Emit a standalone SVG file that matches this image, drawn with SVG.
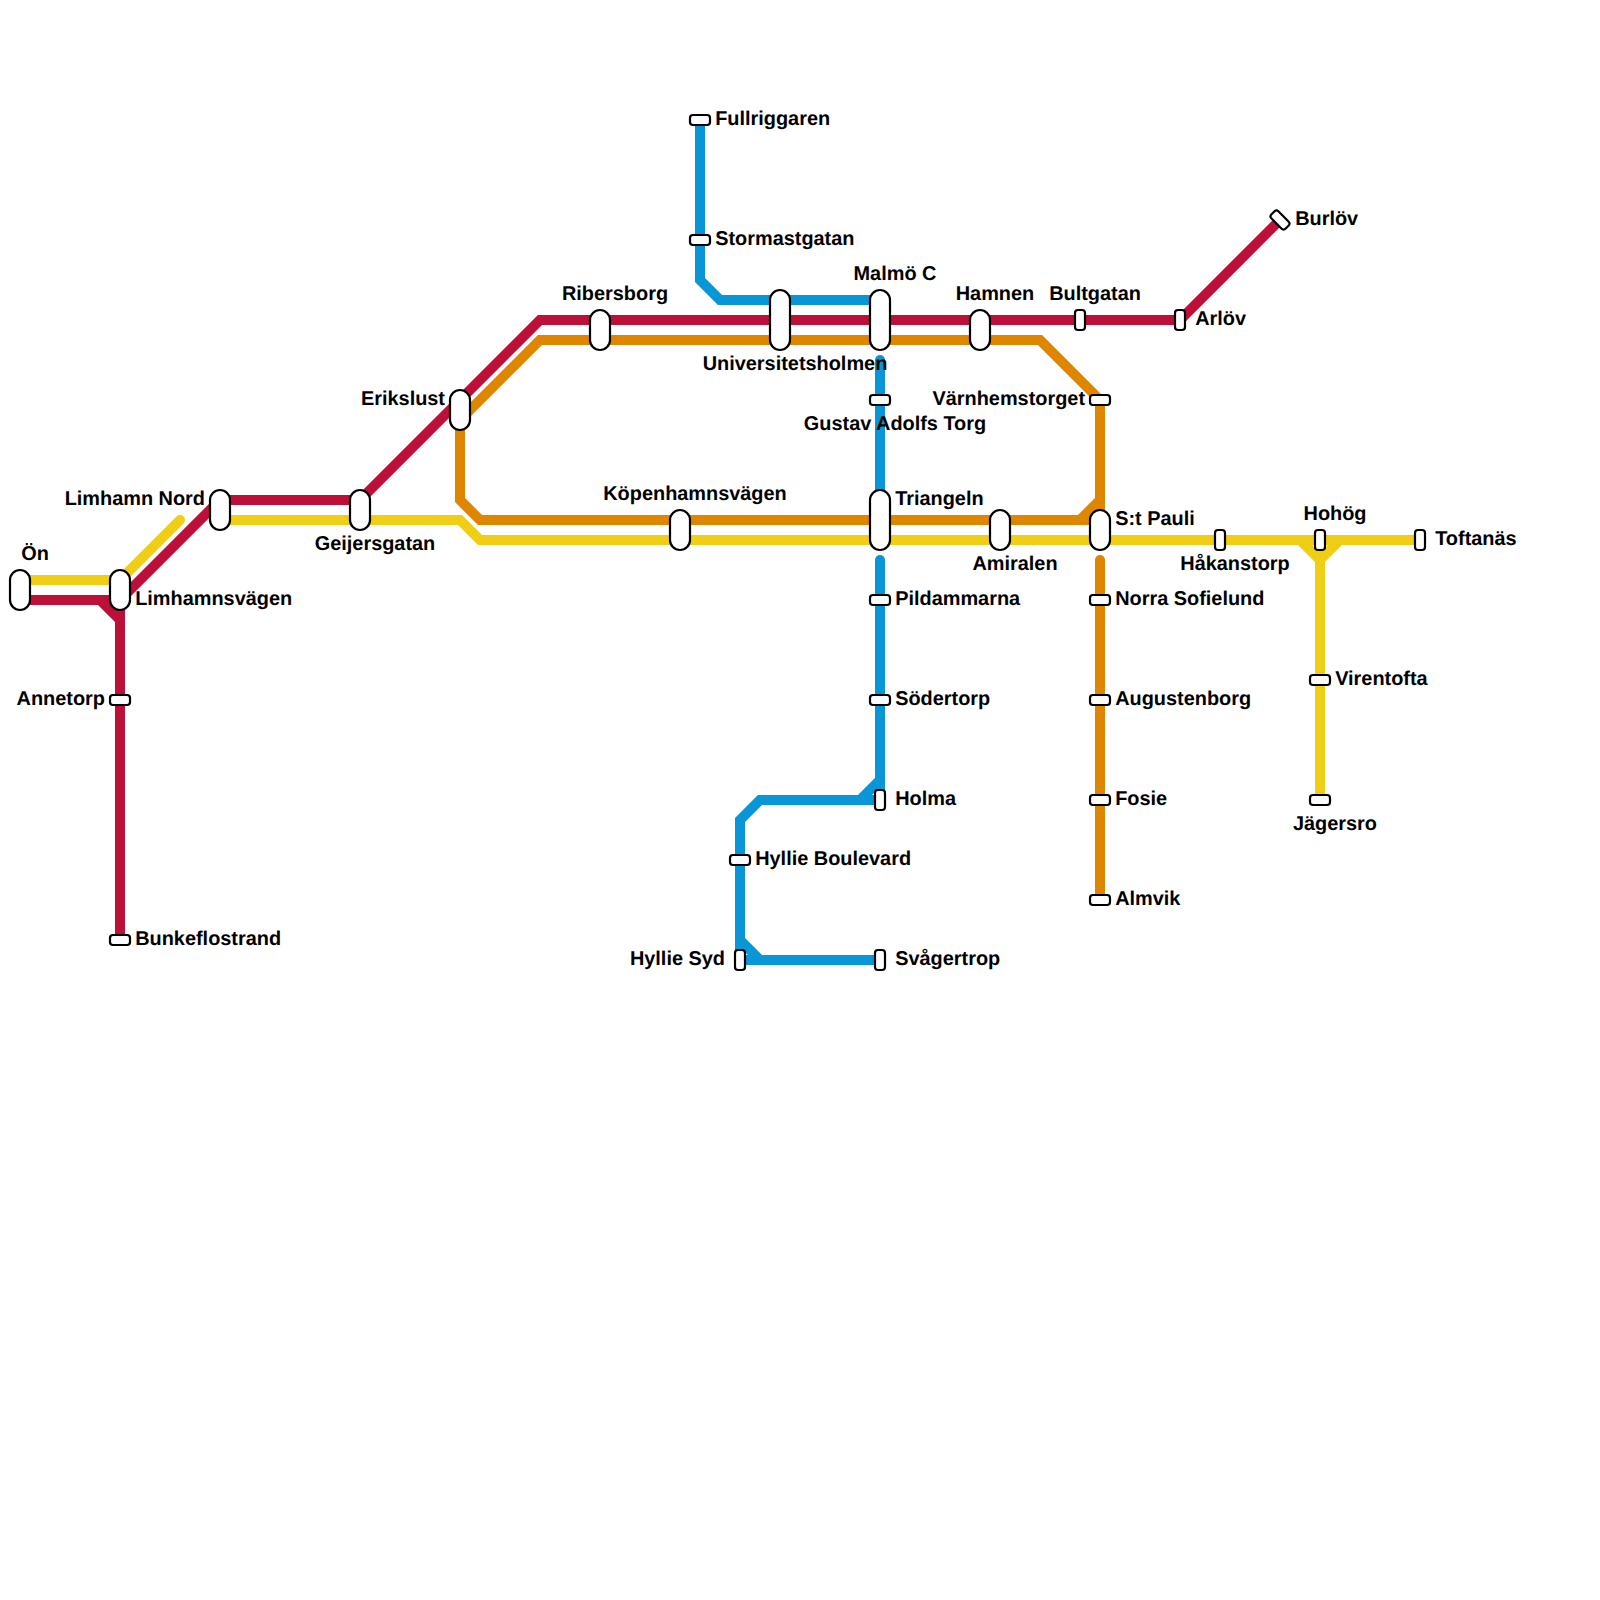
<svg xmlns="http://www.w3.org/2000/svg" width="1600" height="1600" viewBox="0 0 1600 1600">
<style>
.l{fill:none;stroke-width:10;stroke-linejoin:miter;stroke-linecap:butt}
.r{stroke:#bd1038}.y{stroke:#f0ce15}.o{stroke:#df8600}.b{stroke:#0896d7}
.c{stroke-linecap:round}
.s{fill:#fff;stroke:#000;stroke-width:2.2}
text{font-family:"Liberation Sans",Arial,sans-serif;font-weight:700;font-size:19.9px;fill:#000;text-rendering:geometricPrecision}
.m{text-anchor:middle}.e{text-anchor:end}
</style>
<rect width="1600" height="1600" fill="#fff"/>
<g id="connectors">
<path class="l y c" d="M120 580L180 520"/>
<path class="l y" d="M20 580H120"/>
<path class="l y" d="M220 520H460L480 540H1420"/>
<path class="l y" d="M1300 540L1320 560L1340 540"/>
<path class="l y" d="M1320 540V800"/>
<path class="l o" d="M460 420L540 340H1040L1100 400V520"/>
<path class="l o" d="M460 420V500L480 520H1100"/>
<path class="l o" d="M1100 500L1080 520"/>
<path class="l o c" d="M1100 560V900"/>
<path class="l r" d="M20 600H120"/>
<path class="l r" d="M100 600L120 620"/>
<path class="l r" d="M120 600V940"/>
<path class="l r" d="M120 600L220 500H360L540 320H1180L1280 220"/>
<path class="l b" d="M700 120V280L720 300H880"/>
<path class="l b c" d="M880 360V500"/>
<path class="l b c" d="M880 560V800"/>
<path class="l b" d="M880 780L860 800"/>
<path class="l b" d="M880 800H760L740 820V960H880"/>
<path class="l b" d="M740 940L760 960"/>
</g>
<g id="on"><rect class="s" x="10" y="570" width="20" height="40" rx="10"/><text class="m" x="35" y="560">Ön</text></g>
<g id="limhamnsvagen"><rect class="s" x="110" y="570" width="20" height="40" rx="10"/><text x="135.2" y="604.7">Limhamnsvägen</text></g>
<g id="annetorp"><rect class="s" x="110" y="695" width="20" height="10" rx="3"/><text class="e" x="105" y="704.7">Annetorp</text></g>
<g id="bunkeflostrand"><rect class="s" x="110" y="935" width="20" height="10" rx="3"/><text x="135.2" y="944.7">Bunkeflostrand</text></g>
<g id="limhamn-nord"><rect class="s" x="210" y="490" width="20" height="40" rx="10"/><text class="e" x="205" y="504.7">Limhamn Nord</text></g>
<g id="geijersgatan"><rect class="s" x="350" y="490" width="20" height="40" rx="10"/><text class="m" x="375" y="550">Geijersgatan</text></g>
<g id="erikslust"><rect class="s" x="450" y="390" width="20" height="40" rx="10"/><text class="e" x="445" y="404.7">Erikslust</text></g>
<g id="ribersborg"><rect class="s" x="590" y="310" width="20" height="40" rx="10"/><text class="m" x="615" y="300">Ribersborg</text></g>
<g id="kopenhamnsvagen"><rect class="s" x="670" y="510" width="20" height="40" rx="10"/><text class="m" x="695" y="500">Köpenhamnsvägen</text></g>
<g id="universitetsholmen"><rect class="s" x="770" y="290" width="20" height="60" rx="10"/><text class="m" x="795" y="370">Universitetsholmen</text></g>
<g id="malmo-c"><rect class="s" x="870" y="290" width="20" height="60" rx="10"/><text class="m" x="895" y="280">Malmö C</text></g>
<g id="hamnen"><rect class="s" x="970" y="310" width="20" height="40" rx="10"/><text class="m" x="995" y="300">Hamnen</text></g>
<g id="bultgatan"><rect class="s" x="1075" y="310" width="10" height="20" rx="3"/><text class="m" x="1095" y="300">Bultgatan</text></g>
<g id="arlov"><rect class="s" x="1175" y="310" width="10" height="20" rx="3"/><text x="1195.2" y="324.7">Arlöv</text></g>
<g id="burlov"><rect class="s" x="1270" y="215" width="20" height="10" rx="3" transform="rotate(45 1280 220)"/><text x="1295.2" y="224.7">Burlöv</text></g>
<g id="fullriggaren"><rect class="s" x="690" y="115" width="20" height="10" rx="3"/><text x="715.2" y="124.7">Fullriggaren</text></g>
<g id="stormastgatan"><rect class="s" x="690" y="235" width="20" height="10" rx="3"/><text x="715.2" y="244.7">Stormastgatan</text></g>
<g id="gustav-adolfs-torg"><rect class="s" x="870" y="395" width="20" height="10" rx="3"/><text class="m" x="895" y="430">Gustav Adolfs Torg</text></g>
<g id="triangeln"><rect class="s" x="870" y="490" width="20" height="60" rx="10"/><text x="895.2" y="504.7">Triangeln</text></g>
<g id="pildammarna"><rect class="s" x="870" y="595" width="20" height="10" rx="3"/><text x="895.2" y="604.7">Pildammarna</text></g>
<g id="sodertorp"><rect class="s" x="870" y="695" width="20" height="10" rx="3"/><text x="895.2" y="704.7">Södertorp</text></g>
<g id="holma"><rect class="s" x="875" y="790" width="10" height="20" rx="3"/><text x="895.2" y="804.7">Holma</text></g>
<g id="hyllie-boulevard"><rect class="s" x="730" y="855" width="20" height="10" rx="3"/><text x="755.2" y="864.7">Hyllie Boulevard</text></g>
<g id="hyllie-syd"><rect class="s" x="735" y="950" width="10" height="20" rx="3"/><text class="e" x="725" y="964.7">Hyllie Syd</text></g>
<g id="svagertrop"><rect class="s" x="875" y="950" width="10" height="20" rx="3"/><text x="895.2" y="964.7">Svågertrop</text></g>
<g id="amiralen"><rect class="s" x="990" y="510" width="20" height="40" rx="10"/><text class="m" x="1015" y="570">Amiralen</text></g>
<g id="varnhemstorget"><rect class="s" x="1090" y="395" width="20" height="10" rx="3"/><text class="e" x="1085" y="404.7">Värnhemstorget</text></g>
<g id="st-pauli"><rect class="s" x="1090" y="510" width="20" height="40" rx="10"/><text x="1115.2" y="524.7">S:t Pauli</text></g>
<g id="norra-sofielund"><rect class="s" x="1090" y="595" width="20" height="10" rx="3"/><text x="1115.2" y="604.7">Norra Sofielund</text></g>
<g id="augustenborg"><rect class="s" x="1090" y="695" width="20" height="10" rx="3"/><text x="1115.2" y="704.7">Augustenborg</text></g>
<g id="fosie"><rect class="s" x="1090" y="795" width="20" height="10" rx="3"/><text x="1115.2" y="804.7">Fosie</text></g>
<g id="almvik"><rect class="s" x="1090" y="895" width="20" height="10" rx="3"/><text x="1115.2" y="904.7">Almvik</text></g>
<g id="hakanstorp"><rect class="s" x="1215" y="530" width="10" height="20" rx="3"/><text class="m" x="1235" y="570">Håkanstorp</text></g>
<g id="hohog"><rect class="s" x="1315" y="530" width="10" height="20" rx="3"/><text class="m" x="1335" y="520">Hohög</text></g>
<g id="toftanas"><rect class="s" x="1415" y="530" width="10" height="20" rx="3"/><text x="1435.2" y="544.7">Toftanäs</text></g>
<g id="virentofta"><rect class="s" x="1310" y="675" width="20" height="10" rx="3"/><text x="1335.2" y="684.7">Virentofta</text></g>
<g id="jagersro"><rect class="s" x="1310" y="795" width="20" height="10" rx="3"/><text class="m" x="1335" y="830">Jägersro</text></g>
</svg>
